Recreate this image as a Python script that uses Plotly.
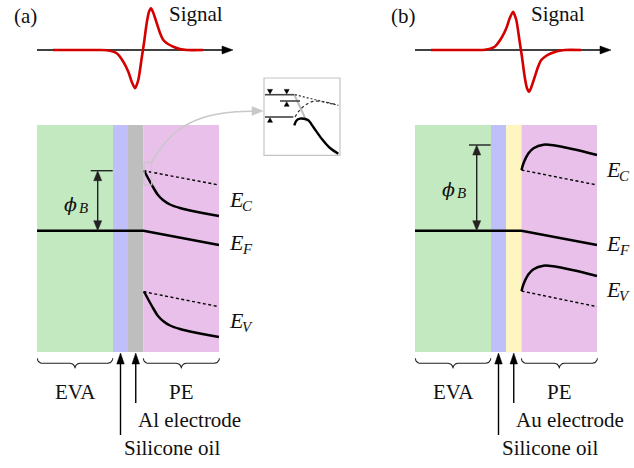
import numpy as np
import plotly.graph_objects as go

W, H = 634, 468
FONT = "Liberation Serif"

# ---------------- data ----------------
panel_labels = ["(a)", "(b)"]
panel_dx = [0, 378]                      # horizontal offset of panel (b)
electrode_names = ["Al electrode", "Au electrode"]
layer_names = ["EVA", "Silicone oil", "electrode", "PE"]
layer_edges = [37, 113, 128, 143.5, 219]  # x edges of layers (panel a)
layer_top, layer_bottom = 125, 352
layer_colors = [["#c2e9c0", "#bfbffa", "#bebebe", "#e9c0ea"],
                ["#c2e9c0", "#bfbffa", "#fff5c0", "#e9c0ea"]]

# Fermi level
fermi_y = 230.7
fermi_end_y = 245

# Barrier height marker (top of phi_B arrow)
phiB_top = [170.7, 145]
phiB_x = [97.7, 476.7]
phiB_tick = [[90.7, 112.7], [469, 490.7]]
phiB_label_x = [63, 441]
phiB_label_y = [204, 189]

# Band edges, panel (a): decaying band bending
ec_a_x = [144, 148, 153, 158, 163, 170, 180, 195, 219]
ec_a_y = [170.5, 178, 187, 195, 200, 204.5, 208, 211.5, 216]
ev_a_y = [291.5, 299, 308, 316, 321, 325.5, 329, 332.5, 337]
# Band edges, panel (b): upward band bending
ec_b_x = [521.5, 523.5, 528.5, 533.5, 543.5, 553.5, 573.5, 597]
ec_b_y = [170, 163.3, 153.3, 148.3, 144.7, 145.3, 149.3, 155]
ev_b_y = [291, 284.3, 274.3, 269.3, 265.7, 266.3, 270.3, 276]
# Flat-band reference (dotted)
ec_ref = [[170.7, 185], [170, 185]]
ev_ref = [[291.7, 306.7], [291, 306.7]]
band_label_x = [228, 605]
band_label_y = [[202, 245, 323], [172, 245.5, 292]]
band_subs = ["C", "F", "V"]

# Signal waveform (time offset from zero crossing, amplitude)
sig_zero_x = 143
sig_base_y = 50
sig_t = [-90, -43, -36, -26.3, -19.7, -14.7, -11.3, -8, -4.7, -1.3, 1, 3.7, 6,
         8, 10, 13.7, 17, 20.3, 25, 30.3, 37, 44, 60]
sig_amp = [0, 0, -0.3, -3.3, -11.7, -21.7, -31.7, -38.3, -30, -8, 7, 27, 38.3,
           41.7, 38, 27, 17, 10, 6, 3.3, 1, 0, 0]
sig_sign = [1, -1]
sig_axis = [37, 233]
sig_label_x = [167, 529]

# Inset (panel a): zoom of barrier region
inset_box = [264, 78, 340, 155.3]
inset_marker_box = [144, 162.3, 151.7, 185]
inset_lines = [([265, 294.3], [94.7, 94.7]), ([280, 300], [101, 101]),
               ([265, 293.3], [117, 117])]
inset_grey_x, inset_grey_y = [294.3, 306.7], [94.7, 121.3]
inset_dot_x, inset_dot_y = [295, 338], [94.7, 105.3]
inset_dash_x = [295, 299, 305, 313.3, 325, 338.3]
inset_dash_y = [117, 111, 105.3, 101.3, 102, 105.3]
inset_solid_x = [294.3, 296.5, 300, 304, 308.3, 313.3, 321.7, 330, 338.3]
inset_solid_y = [125.3, 120.5, 118.7, 118.8, 120.3, 127, 138.7, 148, 153.7]
inset_tri_down = ([270, 286.7], [94.7, 94.7])   # tips touching line
inset_tri_up = ([286.7, 270], [101, 117])
connector_x = [151.7, 158, 166, 176, 188, 202, 218, 236, 252]
connector_y = [162.3, 152, 142, 132, 124, 118, 114, 111.8, 111.2]
connector_tip = (263, 111)

# Labels under the stacks
brace_spans = [[37.3, 112.7], [143.3, 219.3]]
brace_top = 358.3
group_label_y = 392
arrow_tip_y = 353
oil_arrow_bottom = 435
elec_arrow_bottom = 403
oil_label_y = 448
elec_label_y = 420

# ---------------- figure ----------------
fig = go.Figure()
shapes, ann = [], []


def line(x, y, color="black", width=2.5, dash=None, shape="linear", smoothing=1.0):
    fig.add_trace(go.Scatter(x=x, y=y, mode="lines", hoverinfo="skip",
                             line=dict(color=color, width=width, dash=dash,
                                       shape=shape, smoothing=smoothing)))


def head(tx, ty, ux, uy, L, Wd, color):
    """filled triangle with tip at (tx,ty) pointing along unit (ux,uy)"""
    bx, by = tx - ux * L, ty - uy * L
    px, py = -uy, ux
    xs = [tx, bx + px * Wd / 2, bx - px * Wd / 2, tx]
    ys = [ty, by + py * Wd / 2, by - py * Wd / 2, ty]
    fig.add_trace(go.Scatter(x=xs, y=ys, mode="lines", fill="toself", fillcolor=color,
                             hoverinfo="skip", line=dict(color=color, width=0.5)))


def arrow(x, y, ax, ay, color="black", width=1.4, both=False, L=10, Wd=7.5):
    d = np.hypot(x - ax, y - ay)
    ux, uy = (x - ax) / d, (y - ay) / d
    x0, y0 = (ax + ux * L * 0.8, ay + uy * L * 0.8) if both else (ax, ay)
    line([x0, x - ux * L * 0.8], [y0, y - uy * L * 0.8], color=color, width=width)
    head(x, y, ux, uy, L, Wd, color)
    if both:
        head(ax, ay, -ux, -uy, L, Wd, color)


def text(x, y, s, size=21, xanchor="center", yanchor="middle", family=FONT,
         style="normal", pad=1):
    ann.append(dict(x=x, y=y, xref="x", yref="y", text=s, showarrow=False,
                    xanchor=xanchor, yanchor=yanchor, borderpad=pad,
                    font=dict(family=family, size=size, color="#111", style=style)))


def brace(x0, x1, y0, d=10):
    r = d / 2
    mid = (x0 + x1) / 2
    xs, ys = [], []
    for cx, cy, t0, t1 in [(x0 + r, y0, np.pi, np.pi / 2),
                           (mid - r, y0 + 2 * r, -np.pi / 2, 0),
                           (mid + r, y0 + 2 * r, np.pi, 1.5 * np.pi),
                           (x1 - r, y0, np.pi / 2, 0)]:
        th = np.linspace(t0, t1, 10)
        xs += list(cx + r * np.cos(th))
        ys += list(cy + r * np.sin(th))
    line(xs, ys, color="#222", width=1.1)


for p in range(2):
    dx = panel_dx[p]
    edges = [e + dx for e in layer_edges]
    # layers
    for i in range(4):
        shapes.append(dict(type="rect", xref="x", yref="y", layer="below",
                           x0=edges[i], x1=edges[i + 1], y0=layer_top, y1=layer_bottom,
                           fillcolor=layer_colors[p][i], line=dict(width=0)))
    # Fermi level
    line([edges[0], edges[3], edges[4]], [fermi_y, fermi_y, fermi_end_y])
    # dotted references
    line([edges[3], edges[4]], ec_ref[p], width=1.4, dash="3px,2.5px")
    line([edges[3], edges[4]], ev_ref[p], width=1.4, dash="3px,2.5px")
    # band edges
    if p == 0:
        line(ec_a_x, ec_a_y, shape="spline", smoothing=0.8)
        line(ec_a_x, ev_a_y, shape="spline", smoothing=0.8)
    else:
        line(ec_b_x, ec_b_y, shape="spline", smoothing=0.8)
        line(ec_b_x, ev_b_y, shape="spline", smoothing=0.8)
    # phi_B
    line(phiB_tick[p], [phiB_top[p]] * 2, color="#222", width=1.4)
    arrow(phiB_x[p], phiB_top[p], phiB_x[p], fermi_y, color="#222", both=True,
          L=10, Wd=8)
    text(phiB_label_x[p], phiB_label_y[p], "ϕ", size=19, xanchor="left",
         family="DejaVu Serif", style="italic", pad=0)
    text(phiB_label_x[p] + 14.5, phiB_label_y[p] + 4, "B", size=15, xanchor="left",
         style="italic", pad=0)
    # band labels
    for lab, yy in zip(band_subs, band_label_y[p]):
        text(band_label_x[p], yy - 2.5, "E", size=22, xanchor="left", style="italic",
             pad=0)
        text(band_label_x[p] + 12.5, yy + 4, lab, size=15, xanchor="left",
             style="italic", pad=0)
    # signal
    arrow(sig_axis[1] + dx, sig_base_y, sig_axis[0] + dx, sig_base_y, width=1.3,
          L=11, Wd=8)
    sx = [sig_zero_x + dx + t for t in sig_t]
    sy = [sig_base_y - sig_sign[p] * a for a in sig_amp]
    line(sx, sy, color="#d40000", width=2.6, shape="spline", smoothing=0.6)
    text(sig_label_x[p], 14, "Signal", xanchor="left")
    text(25 + dx, 16, panel_labels[p])
    # braces + labels
    for (b0, b1), name in zip(brace_spans, ["EVA", "PE"]):
        brace(b0 + dx, b1 + dx, brace_top)
        text((b0 + b1) / 2 + dx, group_label_y, name)
    oil_x = (edges[1] + edges[2]) / 2
    el_x = (edges[2] + edges[3]) / 2
    arrow(oil_x, arrow_tip_y, oil_x, oil_arrow_bottom, width=1.4, L=11, Wd=7.5)
    arrow(el_x, arrow_tip_y, el_x, elec_arrow_bottom, width=1.4, L=11, Wd=7.5)
    text(oil_x + 1, oil_label_y, "Silicone oil", xanchor="left")
    text(el_x, elec_label_y, electrode_names[p], xanchor="left")

# inset (panel a)
shapes.append(dict(type="rect", xref="x", yref="y", layer="below",
                   x0=inset_box[0], y0=inset_box[1], x1=inset_box[2], y1=inset_box[3],
                   fillcolor="white", line=dict(color="#c4c4c4", width=1.2)))
shapes.append(dict(type="rect", xref="x", yref="y", layer="above",
                   x0=inset_marker_box[0], y0=inset_marker_box[1],
                   x1=inset_marker_box[2], y1=inset_marker_box[3],
                   line=dict(color="#c8c8c8", width=1.2)))
line(connector_x, connector_y, color="#c8c8c8", width=1.5, shape="spline")
head(connector_tip[0], connector_tip[1], 1, 0, 11, 9, "#c8c8c8")
line(inset_grey_x, inset_grey_y, color="#bdbdbd", width=2)
for lx, ly in inset_lines:
    line(lx, ly, color="#444", width=1.6)
line(inset_dot_x, inset_dot_y, color="#333", width=1.2, dash="2px,2px")
line(inset_dash_x, inset_dash_y, color="#333", width=1.2, dash="3px,2.5px", shape="spline")
line(inset_solid_x, inset_solid_y, width=2.4, shape="spline", smoothing=0.8)
for tx, ty in zip(*inset_tri_down):
    head(tx, ty - 0.8, 0, 1, 4.5, 5, "black")
for tx, ty in zip(*inset_tri_up):
    head(tx, ty + 0.8, 0, -1, 4.5, 5, "black")

fig.update_layout(
    width=W, height=H, margin=dict(l=0, r=0, t=0, b=0),
    paper_bgcolor="white", plot_bgcolor="white", showlegend=False,
    xaxis=dict(range=[0, W], visible=False, fixedrange=True),
    yaxis=dict(range=[H, 0], visible=False, fixedrange=True),
    shapes=shapes, annotations=ann,
)
fig.write_html("out.html", config={"displayModeBar": False})
